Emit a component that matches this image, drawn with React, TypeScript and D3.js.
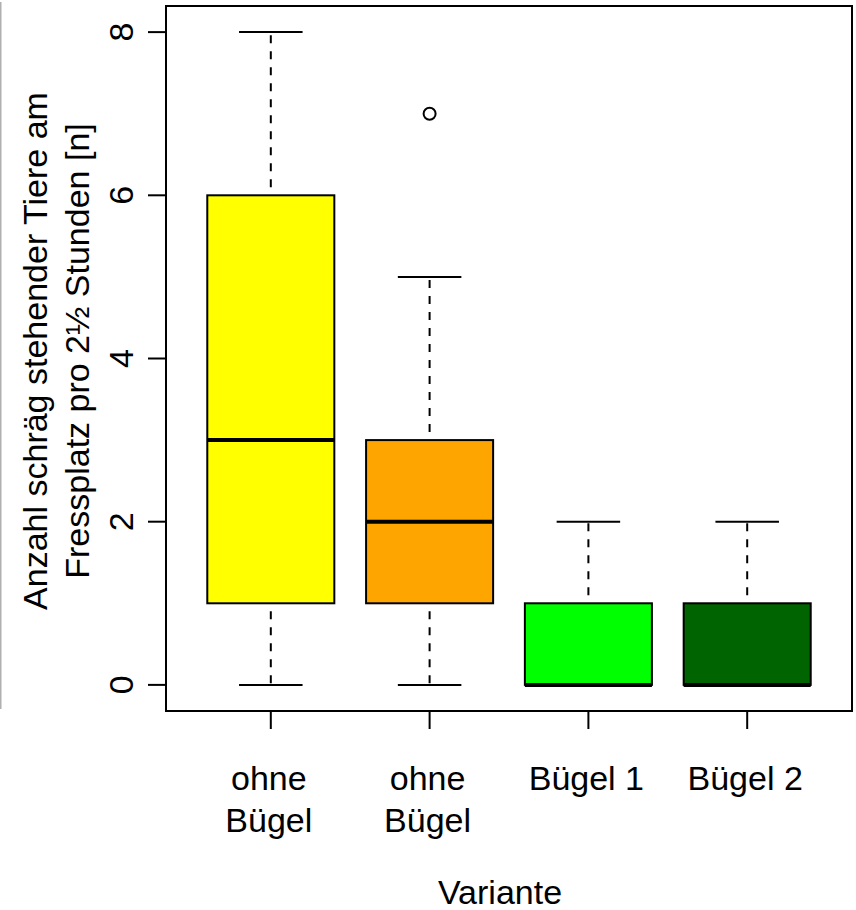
import React from 'react';
import * as d3 from 'd3';

// group labels (two lines each), colours and five-number summaries
const labels = [['ohne', 'Bügel'], ['ohne', 'Bügel'], ['Bügel 1'], ['Bügel 2']];
const colors = ['#ffff00', '#ffa500', '#00ff00', '#006400'];
const lowerWhisker = [0, 0, 0, 0];
const q1 = [1, 1, 0, 0];
const median = [3, 2, 0, 0];
const q3 = [6, 3, 1, 1];
const upperWhisker = [8, 5, 2, 2];
const outliers = [[], [7], [], []];
const yTicks = [0, 2, 4, 6, 8];

const W = 856;
const H = 910;
const plot = { left: 166, right: 852, top: 6, bottom: 711 };
const font = '"Liberation Sans", Arial, Helvetica, sans-serif';
const fs = 34;

const App = () => {
  const n = labels.length;
  // R style: xlim 0.5..n+0.5 and ylim 0..8, each padded by 4%
  const xPad = n * 0.04;
  const x = d3.scaleLinear()
    .domain([0.5 - xPad, n + 0.5 + xPad])
    .range([plot.left, plot.right]);
  const yPad = 8 * 0.04;
  const y = d3.scaleLinear()
    .domain([-yPad, 8 + yPad])
    .range([plot.bottom, plot.top]);

  const unit = x(2) - x(1);
  const boxW = unit * 0.8;
  const capW = boxW * 0.5;

  return (
    <svg width={W} height={H} style={{ position: 'absolute', left: 0, top: 0, background: 'white' }}
      fontFamily={font}>
      <line x1={0.75} x2={0.75} y1={2} y2={709} stroke="#b0b0b0" strokeWidth={1.5} />

      {labels.map((_, i) => {
        const cx = x(i + 1);
        return (
          <g key={'box' + i}>
            <line x1={cx} x2={cx} y1={y(q3[i])} y2={y(upperWhisker[i])}
              stroke="#000" strokeWidth={2} strokeDasharray="8,8" strokeDashoffset={8} />
            <line x1={cx} x2={cx} y1={y(q1[i])} y2={y(lowerWhisker[i])}
              stroke="#000" strokeWidth={2} strokeDasharray="8,8" strokeDashoffset={8} />
            <line x1={cx - capW / 2} x2={cx + capW / 2} y1={y(upperWhisker[i])} y2={y(upperWhisker[i])}
              stroke="#000" strokeWidth={2} />
            <line x1={cx - capW / 2} x2={cx + capW / 2} y1={y(lowerWhisker[i])} y2={y(lowerWhisker[i])}
              stroke="#000" strokeWidth={2} />
            <rect x={cx - boxW / 2} y={y(q3[i])} width={boxW} height={y(q1[i]) - y(q3[i])}
              fill={colors[i]} stroke="#000" strokeWidth={2} />
            <line x1={cx - boxW / 2} x2={cx + boxW / 2} y1={y(median[i])} y2={y(median[i])}
              stroke="#000" strokeWidth={4} />
            {outliers[i].map((v, j) => (
              <circle key={j} cx={cx} cy={y(v)} r={6} fill="none" stroke="#000" strokeWidth={2} />
            ))}
          </g>
        );
      })}

      <rect x={plot.left} y={plot.top} width={plot.right - plot.left} height={plot.bottom - plot.top}
        fill="none" stroke="#000" strokeWidth={2} />

      {yTicks.map(t => (
        <g key={'yt' + t}>
          <line x1={plot.left - 18} x2={plot.left} y1={y(t)} y2={y(t)} stroke="#000" strokeWidth={2} />
          <text transform={`translate(133,${y(t)}) rotate(-90)`} textAnchor="middle" fontSize={fs}>{t}</text>
        </g>
      ))}

      {labels.map((lines, i) => (
        <g key={'xt' + i}>
          <line x1={x(i + 1)} x2={x(i + 1)} y1={plot.bottom} y2={plot.bottom + 18} stroke="#000" strokeWidth={2} />
          {lines.map((s, k) => (
            <text key={k} x={x(i + 1) - 2} y={790 + k * 42} textAnchor="middle" fontSize={fs}>{s}</text>
          ))}
        </g>
      ))}

      <text x={500} y={904} textAnchor="middle" fontSize={fs}>Variante</text>
      <text transform="translate(47,351) rotate(-90)" textAnchor="middle" fontSize={fs}>
        Anzahl schräg stehender Tiere am
      </text>
      <text transform="translate(89,351) rotate(-90)" textAnchor="middle" fontSize={fs}>
        Fressplatz pro 2½ Stunden [n]
      </text>
    </svg>
  );
};

export default App;
